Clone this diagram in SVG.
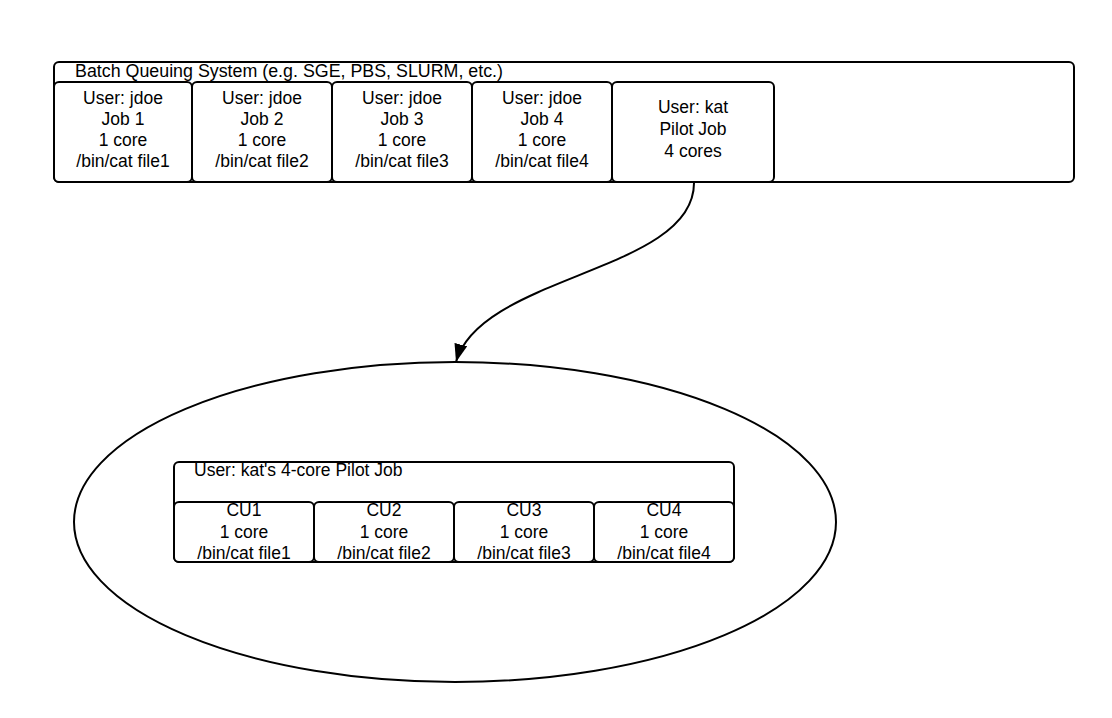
<svg xmlns="http://www.w3.org/2000/svg" width="1112" height="718" viewBox="0 0 1112 718">
<style>
.b{fill:#fff;stroke:#000;stroke-width:2}
.t{font-family:"Liberation Sans",Arial,sans-serif;font-size:17.5px;fill:#000}
.m{text-anchor:middle}
</style>
<defs>
<marker id="ah" markerWidth="18" markerHeight="13" refX="18" refY="6.5" orient="auto" markerUnits="userSpaceOnUse" viewBox="0 0 18 13">
<path d="M0,0 L18,6.5 L0,13 Z" fill="#000"/>
</marker>
</defs>
<rect width="1112" height="718" fill="#fff"/>
<g id="batch">
<rect class="b" x="54" y="62" width="1020" height="120" rx="5"/>
<text class="t" x="75" y="77" textLength="428" lengthAdjust="spacingAndGlyphs">Batch Queuing System (e.g. SGE, PBS, SLURM, etc.)</text>
</g>
<g id="job1">
<rect class="b" x="54" y="82" width="138" height="100" rx="5"/>
<text class="t m" x="123" y="104">User: jdoe</text>
<text class="t m" x="123" y="125">Job 1</text>
<text class="t m" x="123" y="146">1 core</text>
<text class="t m" x="123" y="167">/bin/cat file1</text>
</g>
<g id="job2">
<rect class="b" x="192" y="82" width="140" height="100" rx="5"/>
<text class="t m" x="262" y="104">User: jdoe</text>
<text class="t m" x="262" y="125">Job 2</text>
<text class="t m" x="262" y="146">1 core</text>
<text class="t m" x="262" y="167">/bin/cat file2</text>
</g>
<g id="job3">
<rect class="b" x="332" y="82" width="140" height="100" rx="5"/>
<text class="t m" x="402" y="104">User: jdoe</text>
<text class="t m" x="402" y="125">Job 3</text>
<text class="t m" x="402" y="146">1 core</text>
<text class="t m" x="402" y="167">/bin/cat file3</text>
</g>
<g id="job4">
<rect class="b" x="472" y="82" width="140" height="100" rx="5"/>
<text class="t m" x="542" y="104">User: jdoe</text>
<text class="t m" x="542" y="125">Job 4</text>
<text class="t m" x="542" y="146">1 core</text>
<text class="t m" x="542" y="167">/bin/cat file4</text>
</g>
<g id="pilot">
<rect class="b" x="612" y="82" width="162" height="100" rx="5"/>
<text class="t m" x="693" y="113">User: kat</text>
<text class="t m" x="693" y="135">Pilot Job</text>
<text class="t m" x="693" y="157">4 cores</text>
</g>
<g id="ellipse">
<ellipse cx="455" cy="522" rx="381" ry="160" fill="none" stroke="#000" stroke-width="2"/>
</g>
<g id="pilotjob">
<rect class="b" x="174" y="462" width="560" height="100" rx="5"/>
<text class="t" x="194" y="476">User: kat's 4-core Pilot Job</text>
</g>
<g id="cu1">
<rect class="b" x="174" y="502" width="140" height="60" rx="5"/>
<text class="t m" x="244" y="516">CU1</text>
<text class="t m" x="244" y="538">1 core</text>
<text class="t m" x="244" y="559">/bin/cat file1</text>
</g>
<g id="cu2">
<rect class="b" x="314" y="502" width="140" height="60" rx="5"/>
<text class="t m" x="384" y="516">CU2</text>
<text class="t m" x="384" y="538">1 core</text>
<text class="t m" x="384" y="559">/bin/cat file2</text>
</g>
<g id="cu3">
<rect class="b" x="454" y="502" width="140" height="60" rx="5"/>
<text class="t m" x="524" y="516">CU3</text>
<text class="t m" x="524" y="538">1 core</text>
<text class="t m" x="524" y="559">/bin/cat file3</text>
</g>
<g id="cu4">
<rect class="b" x="594" y="502" width="140" height="60" rx="5"/>
<text class="t m" x="664" y="516">CU4</text>
<text class="t m" x="664" y="538">1 core</text>
<text class="t m" x="664" y="559">/bin/cat file4</text>
</g>
<g id="connectors">
<path d="M694,183 C694,272 480,275 456,362" fill="none" stroke="#000" stroke-width="2" marker-end="url(#ah)"/>
</g>
</svg>
